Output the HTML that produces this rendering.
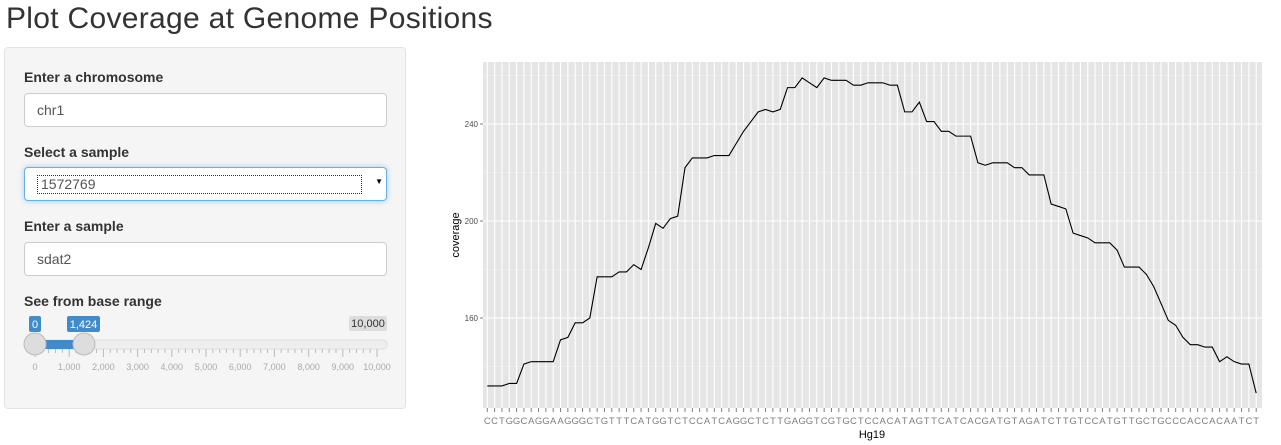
<!DOCTYPE html>
<html><head><meta charset="utf-8">
<style>
body{margin:0;width:1281px;height:445px;background:#fff;font-family:"Liberation Sans",sans-serif;position:relative;overflow:hidden;color:#333}
.abs{position:absolute}
h1{position:absolute;left:6px;top:2px;margin:0;font-weight:400;font-size:30px;color:#333;letter-spacing:0.3px}
.well{left:4px;top:47px;width:402px;height:362px;background:#f5f5f5;border:1px solid #e3e3e3;border-radius:4px;box-sizing:border-box}
.lbl{left:24px;font-weight:700;font-size:14px;color:#333}
.inp{left:24px;width:363px;height:34px;background:#fff;border:1px solid #ccc;border-radius:4px;box-sizing:border-box;font-size:14px;color:#555;padding:8px 12px}
</style></head><body>
<h1>Plot Coverage at Genome Positions</h1>
<div class="abs well"></div>
<div class="abs lbl" style="top:69px">Enter a chromosome</div>
<div class="abs inp" style="top:93px">chr1</div>
<div class="abs lbl" style="top:144px">Select a sample</div>
<div class="abs inp" style="top:167px;border-color:#66afe9;box-shadow:0 0 6px rgba(102,175,233,.6);padding:6px 12px"><span style="display:block;border:1px dotted #333;width:320px;height:17px;line-height:17px;padding-left:3px;margin-top:1px">1572769</span><span class="abs" style="right:3px;top:9px;font-size:8px;color:#000">▼</span></div>
<div class="abs lbl" style="top:218px">Enter a sample</div>
<div class="abs inp" style="top:242px">sdat2</div>
<div class="abs lbl" style="top:293px">See from base range</div>
<svg class="abs" style="left:0;top:0" width="410" height="410">
<rect x="29" y="340" width="358" height="9" rx="4" fill="#eee" stroke="#ddd"/>
<rect x="35" y="340" width="49" height="9" fill="#428bca"/>
<g id="sticks"></g>
<rect x="29" y="316" width="12" height="16" rx="2" fill="#428bca"/><text x="35" y="328" font-size="11" fill="#fff" text-anchor="middle">0</text>
<rect x="67" y="316" width="33" height="16" rx="2" fill="#428bca"/><text x="83.5" y="328" font-size="11" fill="#fff" text-anchor="middle">1,424</text>
<rect x="349" y="316" width="38" height="15" rx="2" fill="#ddd"/><text x="368" y="327" font-size="11" fill="#333" text-anchor="middle">10,000</text>
<circle cx="35" cy="344" r="11" fill="#ddd" stroke="#bbb"/><circle cx="84" cy="344" r="11" fill="#ddd" stroke="#bbb"/>
</svg>
<svg class="abs" style="left:0;top:0" width="1281" height="445" id="chart"></svg>
<script>
const seq="CCTGGCAGGAAGGGCTGTTTCATGGTCTCCATCAGGCTCTTGAGGTCGTGCTCCACATAGTTCATCACGATGTAGATCTTGTCCATGTTGCTGCCCACCACAATCT";
const categories=seq.split("");
const coverage=[132,132,132,133,133,141,142,142,142,142,151,152,158,158,160,177,177,177,179,179,182,180,189,199,197,201,202,222,226,226,226,227,227,227,232,237,241,245,246,245,246,255,255,259,257,255,259,258,258,258,256,256,257,257,257,256,256,245,245,249,241,241,237,237,235,235,235,224,223,224,224,224,222,222,219,219,219,207,206,205,195,194,193,191,191,191,188,181,181,181,178,173,166,159,157,152,149,149,148,148,142,144,142,141,141,129];
const yTicks=[160,200,240];
const yMinor=[140,180,220,260];
const sliderTicks=[0,1000,2000,3000,4000,5000,6000,7000,8000,9000,10000];
const NS="http://www.w3.org/2000/svg";
function mk(p,t,a){const e=document.createElementNS(NS,t);for(const k in a)e.setAttribute(k,a[k]);p.appendChild(e);return e;}
const st=document.getElementById('sticks');
const sx=v=>35+v/10000*342;
sliderTicks.forEach((v,i)=>{
  const l=mk(st,'line',{x1:sx(v),x2:sx(v),y1:349,y2:357,stroke:'#bbb'});
  
  
  const t=mk(st,'text',{x:sx(v),y:370,'font-size':9,fill:'#aaa','text-anchor':'middle'});t.textContent=v.toLocaleString('en-US');
  
  
  if(i<sliderTicks.length-1)for(let j=1;j<5;j++){const m=mk(st,'line',{x1:sx(v+j*200),x2:sx(v+j*200),y1:349,y2:353,stroke:'#bbb'});
    
    }
});
const svg=document.getElementById('chart');
const L=483,R=1262,T=62,B=408;
const n=categories.length;
const x=i=>487.3+i*(1256.2-487.3)/(n-1);
const y=v=>124+(240-v)*2.425;
const bg=mk(svg,'rect',{x:L,y:T,width:R-L,height:B-T,fill:'#e5e5e5'});


yMinor.forEach(v=>{const l=mk(svg,'line',{x1:L,x2:R,y1:y(v),y2:y(v),stroke:'#f2f2f2','stroke-width':0.6});
  
  });
yTicks.forEach(v=>{const l=mk(svg,'line',{x1:L,x2:R,y1:y(v),y2:y(v),stroke:'#fff','stroke-width':1.1});
  
  
  const tk=mk(svg,'line',{x1:L-3,x2:L,y1:y(v),y2:y(v),stroke:'#7f7f7f'});
  
  
  const t=mk(svg,'text',{x:L-5,y:y(v)+3,'font-size':8,fill:'#4d4d4d','text-anchor':'end'});t.textContent=v;
  
  });
categories.forEach((c,i)=>{
  const g=mk(svg,'line',{x1:x(i),x2:x(i),y1:T,y2:B,stroke:'#fff','stroke-width':1.1});
  
  
  const tk=mk(svg,'line',{x1:x(i),x2:x(i),y1:B,y2:B+4,stroke:'#7f7f7f'});
  
  
  const t=mk(svg,'text',{x:x(i),y:B+16,'font-size':9.5,fill:'#7f7f7f','text-anchor':'middle'});t.textContent=c;
  
  
});
const pl=mk(svg,'polyline',{points:coverage.map((v,i)=>x(i)+','+y(v)).join(' '),fill:'none',stroke:'#000','stroke-width':1.1});


const xt=mk(svg,'text',{x:872,y:438,'font-size':11,fill:'#000','text-anchor':'middle'});xt.textContent='Hg19';


const yt=mk(svg,'text',{x:459,y:235,'font-size':11,fill:'#000','text-anchor':'middle',transform:'rotate(-90 459 235)'});yt.textContent='coverage';


</script>
</body></html>
